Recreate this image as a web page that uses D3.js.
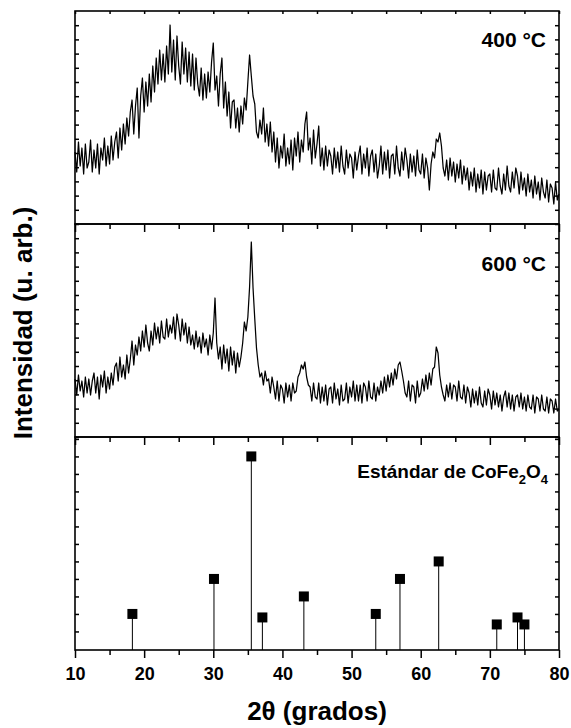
<!DOCTYPE html>
<html>
<head>
<meta charset="utf-8">
<script src="https://cdn.jsdelivr.net/npm/d3@7"></script>
<style>
  body { margin: 0; background: #fff; }
  svg { display: block; }
  text { font-family: "Liberation Sans", Arial, sans-serif; font-weight: bold; fill: #000; }
</style>
</head>
<body>
<svg id="chart" width="571" height="728"></svg>
<script>
// measurement grid: 10° to 80°, 0.25° step
const twoThetaStart = 10;
const twoThetaStep = 0.25;

// 400 °C pattern (arb. units)
const pattern400 = [
  72, 52, 82, 58,  76, 50, 80, 56,  62, 84, 52, 74,  56, 80, 50, 76,  64, 86, 58, 78,
  60, 88, 64, 82,  92, 66, 96, 74,  100, 80, 106, 88,  112, 124, 90, 118,  136, 86, 128, 146,
  112, 142, 118, 150,  122, 158, 132, 166,  140, 174, 144, 170,  142, 178, 150, 199,  152, 184, 144, 188,
  158, 140, 182, 150,  176, 142, 172, 138,  170, 134, 166, 140,  128, 156, 124, 150,  126, 152, 132, 162,
  181, 134, 148, 118,  150, 166, 116, 142,  108, 132, 96, 122,  124, 96, 116, 92,  118, 100, 126, 114,
  142, 169, 148, 128,  120, 92, 86, 104,  90, 116, 82, 100,  78, 102, 72, 92,  62, 86, 56, 78,
  66, 90, 58, 76,  60, 84, 54, 86,  68, 92, 62, 84,  72, 100, 112, 74,  86, 60, 94, 66,
  80, 98, 58, 76,  54, 78, 58, 74,  68, 50, 76, 56,  72, 52, 78, 58,  50, 74, 56, 70,
  66, 46, 72, 54,  68, 78, 50, 70,  56, 76, 48, 68,  74, 52, 70, 46,  58, 78, 50, 72,
  54, 74, 46, 68,  70, 50, 78, 56,  48, 72, 54, 76,  64, 46, 70, 52,  68, 48, 74, 54,
  50, 70, 46, 66,  56, 34, 60, 72,  66, 85, 82, 91,  78, 56, 48, 64,  44, 66, 48, 62,
  42, 60, 46, 64,  40, 58, 44, 56,  34, 52, 38, 56,  32, 50, 36, 54,  30, 52, 34, 48,
  50, 32, 54, 36,  34, 56, 38, 30,  50, 34, 58, 38,  32, 52, 36, 56,  48, 30, 52, 34,
  46, 28, 50, 32,  44, 26, 48, 30,  42, 24, 46, 32,  26, 44, 22, 40,  36, 20, 42, 24,
  30
];

// 600 °C pattern (arb. units)
const pattern600 = [
  58, 42, 62, 46,  56, 40, 60, 44,  58, 42, 56, 64,  44, 60, 38, 62,  50, 66, 44, 60,
  48, 64, 52, 70,  74, 56, 80, 60,  72, 58, 82, 64,  78, 96, 72, 92,  82, 100, 86, 106,
  90, 112, 94, 86,  106, 92, 114, 98,  110, 94, 116, 100,  98, 118, 100, 112,  104, 120, 98, 123,
  112, 96, 118, 102,  114, 94, 110, 92,  102, 88, 106, 90,  100, 84, 104, 90,  98, 82, 102, 88,
  104, 139, 94, 78,  90, 68, 92, 74,  88, 66, 90, 72,  86, 64, 84, 70,  80, 94, 115, 106,
  120, 150, 195, 149,  118, 89, 72, 60,  64, 52, 66, 56,  58, 44, 60, 50,  38, 56, 36, 52,
  48, 34, 54, 40,  52, 36, 54, 44,  46, 60, 64, 72,  68, 75, 60, 52,  50, 36, 54, 40,
  38, 54, 34, 50,  36, 52, 32, 48,  50, 34, 54, 38,  48, 32, 52, 36,  38, 54, 34, 50,
  40, 56, 36, 52,  36, 52, 34, 54,  50, 36, 56, 40,  38, 54, 36, 50,  42, 56, 44, 60,
  46, 62, 50, 64,  52, 68, 58, 72,  75, 66, 56, 44,  40, 56, 36, 52,  50, 34, 56, 40,
  44, 58, 46, 62,  48, 64, 52, 68,  70, 90, 84, 62,  50, 42, 36, 52,  40, 54, 38, 52,
  50, 36, 56, 40,  38, 52, 34, 50,  44, 30, 48, 34,  46, 32, 50, 34,  30, 46, 32, 48,
  42, 28, 46, 32,  44, 30, 42, 26,  40, 46, 30, 44,  28, 42, 26, 40,  42, 30, 44, 28,
  40, 26, 42, 30,  28, 42, 24, 40,  38, 26, 42, 28,  26, 40, 24, 38,  36, 24, 38, 26,
  28
];

// CoFe2O4 standard reflections
const stdPositions = [18.3, 30.1, 35.5, 37.1, 43.1, 53.5, 57.0, 62.6, 71.0, 74.0, 75.0];
const stdIntensity = [10, 30, 100, 8, 20, 10, 30, 40, 4, 8, 4];

const xMajorTicks = [10, 20, 30, 40, 50, 60, 70, 80];
const xMinorTicks = [15, 25, 35, 45, 55, 65, 75];

const left = 75, right = 559, panelH = 213;
const panelTops = [11, 224, 437];

const svg = d3.select('#chart');

const x = d3.scaleLinear().domain([10, 80]).range([left, right]);

const patterns = [
  { data: pattern400, label: '400 °C', labelY: 36 },
  { data: pattern600, label: '600 °C', labelY: 47 }
];

patterns.forEach((p, k) => {
  const top = panelTops[k];
  const y = d3.scaleLinear().domain([0, 213]).range([top + panelH, top]);

  const line = d3.line()
    .x((d, i) => x(twoThetaStart + i * twoThetaStep))
    .y(d => y(d));

  svg.append('path')
    .datum(p.data)
    .attr('fill', 'none')
    .attr('stroke', '#000')
    .attr('stroke-width', 1.25)
    .attr('stroke-linejoin', 'round')
    .attr('d', line);

  // y ticks, inward, no labels
  const yt = d3.range(0, 213, 213 / 15);
  svg.append('g').attr('class', 'ax')
    .attr('transform', `translate(${left},0)`)
    .call(d3.axisRight(y).tickValues(yt).tickSize(4).tickFormat(''));
  svg.append('g').attr('class', 'ax')
    .attr('transform', `translate(${right},0)`)
    .call(d3.axisLeft(y).tickValues(yt).tickSize(4).tickFormat(''));

  svg.append('text')
    .attr('x', 546)
    .attr('y', top + p.labelY)
    .attr('text-anchor', 'end')
    .style('font-size', '21px')
    .text(p.label);
});

// standard panel
{
  const top = panelTops[2];
  const y = d3.scaleLinear().domain([-10.6, 111.1]).range([top + panelH, top]);
  const g = svg.append('g');
  const base = y.range()[0];

  g.selectAll('line.stem')
    .data(stdPositions)
    .enter().append('line')
    .attr('class', 'stem')
    .attr('x1', d => x(d)).attr('x2', d => x(d))
    .attr('y1', base)
    .attr('y2', (d, i) => y(stdIntensity[i]))
    .attr('stroke', '#000')
    .attr('stroke-width', 1);

  g.selectAll('rect.pk')
    .data(stdPositions)
    .enter().append('rect')
    .attr('class', 'pk')
    .attr('x', d => x(d) - 5)
    .attr('y', (d, i) => y(stdIntensity[i]) - 5)
    .attr('width', 10)
    .attr('height', 10)
    .attr('fill', '#000');

  const yt = d3.range(0, 111, 10);
  svg.append('g').attr('class', 'ax')
    .attr('transform', `translate(${left},0)`)
    .call(d3.axisRight(y).tickValues(yt).tickSize(4).tickFormat(''));
  svg.append('g').attr('class', 'ax')
    .attr('transform', `translate(${right},0)`)
    .call(d3.axisLeft(y).tickValues(yt).tickSize(4).tickFormat(''));

  const lbl = svg.append('text')
    .attr('x', 548)
    .attr('y', top + 41)
    .attr('text-anchor', 'end')
    .style('font-size', '19px');
  lbl.append('tspan').text('Estándar de CoFe');
  lbl.append('tspan').attr('dy', 6).style('font-size', '13px').text('2');
  lbl.append('tspan').attr('dy', -6).text('O');
  lbl.append('tspan').attr('dy', 6).style('font-size', '13px').text('4');
}

// horizontal axes: ticks point downward from every panel edge
panelTops.forEach((top, k) => {
  const yb = top + panelH;
  svg.append('g').attr('class', 'ax')
    .attr('transform', `translate(0,${yb})`)
    .call(d3.axisBottom(x).tickValues(xMajorTicks).tickSize(8).tickSizeOuter(0)
      .tickFormat(k === 2 ? d3.format('d') : ''));
  svg.append('g').attr('class', 'ax')
    .attr('transform', `translate(0,${yb})`)
    .call(d3.axisBottom(x).tickValues(xMinorTicks).tickSize(5).tickFormat(''));
});
// top edge of upper panel
svg.append('g').attr('class', 'ax')
  .attr('transform', `translate(0,${panelTops[0]})`)
  .call(d3.axisBottom(x).tickValues(xMajorTicks.concat(xMinorTicks)).tickSize(3).tickFormat(''));

// frames
panelTops.forEach(top => {
  svg.append('rect')
    .attr('x', left).attr('y', top)
    .attr('width', right - left).attr('height', panelH)
    .attr('fill', 'none')
    .attr('stroke', '#000')
    .attr('stroke-width', 1.6);
});

svg.selectAll('.ax path').remove();
svg.selectAll('.ax line').attr('stroke', '#000').attr('stroke-width', 1.5);
svg.selectAll('.ax text')
  .style('font-size', '18px')
  .style('font-family', '"Liberation Sans", Arial, sans-serif')
  .style('font-weight', 'bold')
  .attr('fill', '#000')
  .attr('dy', '1.05em');

// axis titles
svg.append('text')
  .attr('x', (left + right) / 2)
  .attr('y', 720)
  .attr('text-anchor', 'middle')
  .style('font-size', '26px')
  .text('2θ (grados)');

svg.append('text')
  .attr('transform', `translate(32,323) rotate(-90)`)
  .attr('text-anchor', 'middle')
  .style('font-size', '26px')
  .text('Intensidad (u. arb.)');
</script>
</body>
</html>
